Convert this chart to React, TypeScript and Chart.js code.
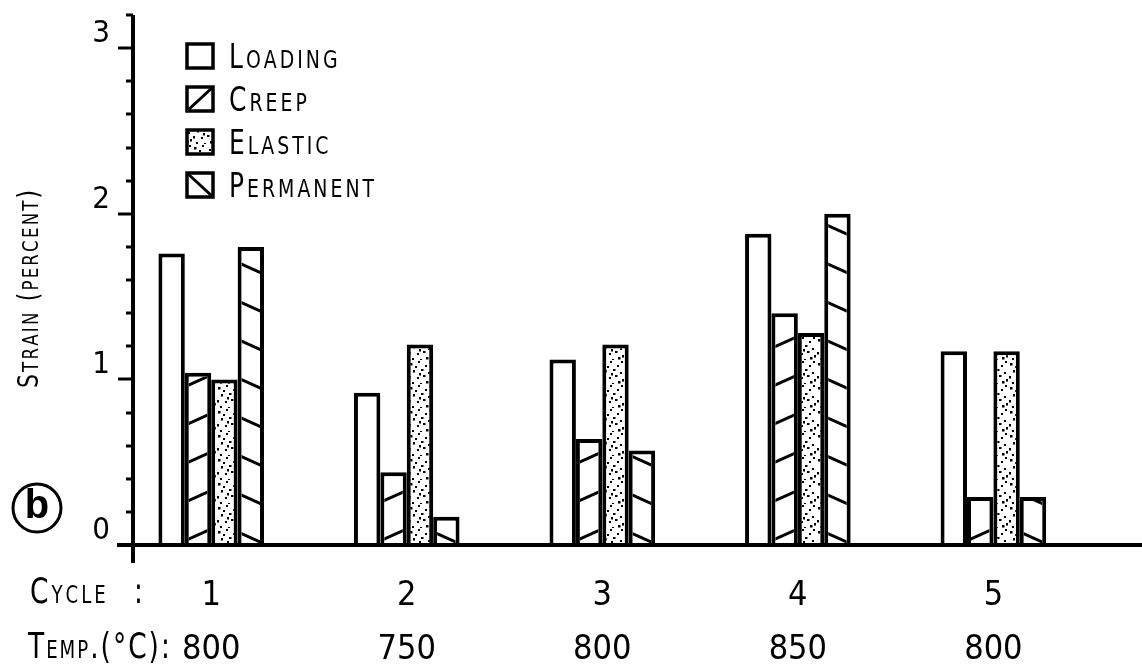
import React, { useEffect, useRef } from 'react';
import { Chart, registerables } from 'chart.js';

Chart.register(...registerables);

// Strain components per loading cycle (percent)
const cycles = [1, 2, 3, 4, 5];
const temperatures = ['800', '750', '800', '850', '800'];
const loading = [1.76, 0.92, 1.12, 1.88, 1.17];
const creep = [1.04, 0.44, 0.64, 1.4, 0.29];
const elastic = [1.0, 1.21, 1.21, 1.28, 1.17];
const permanent = [1.8, 0.17, 0.57, 2.0, 0.29];
const seriesNames = ['Loading', 'Creep', 'Elastic', 'Permanent'];
const seriesFills = ['plain', 'rising', 'dots', 'falling'];

const FONT = "'Liberation Sans Narrow', 'DejaVu Sans Condensed', 'Arial Narrow', sans-serif";
const INK = '#000';
const SQUEEZE = 0.84;

// fixed dot layout for the stippled tile
const DOTS: [number, number][] = [
  [2, 3], [10, 1], [17, 5], [5, 10], [13, 9], [20, 12], [1, 16], [9, 17],
  [15, 15], [22, 19], [4, 22], [12, 23], [18, 21], [7, 6], [21, 1], [11, 13],
];

function makeStipple(ctx: CanvasRenderingContext2D) {
  const c = document.createElement('canvas');
  c.width = 24;
  c.height = 24;
  const g = c.getContext('2d')!;
  g.fillStyle = '#fff';
  g.fillRect(0, 0, 24, 24);
  g.fillStyle = INK;
  DOTS.forEach(([x, y], i) => g.fillRect(x, y, i % 4 === 0 ? 2.5 : 2, i % 3 === 0 ? 2.5 : 2));
  return ctx.createPattern(c, 'repeat')!;
}

// Small-caps lettering: capitals large, lowercase drawn as smaller capitals,
// squeezed horizontally to a narrow lettering style
function drawCaps(ctx: CanvasRenderingContext2D, text: string, x: number, y: number,
  big: number, small: number, spacing: number) {
  ctx.save();
  ctx.translate(x, y);
  ctx.scale(SQUEEZE, 1);
  ctx.textAlign = 'left';
  ctx.textBaseline = 'alphabetic';
  ctx.fillStyle = INK;
  let cx = 0;
  for (const ch of text) {
    const lower = ch >= 'a' && ch <= 'z';
    const c = lower ? ch.toUpperCase() : ch;
    ctx.font = `${lower ? small : big}px ${FONT}`;
    ctx.fillText(c, cx, 0);
    cx += ctx.measureText(c).width + spacing / SQUEEZE;
  }
  ctx.restore();
  return x + cx * SQUEEZE;
}

function hatch(ctx: CanvasRenderingContext2D, left: number, top: number, right: number, bottom: number,
  kind: string, spacing: number, slope: number, phase: number) {
  if (bottom - top <= 0 || right - left <= 0) return;
  ctx.save();
  ctx.beginPath();
  ctx.rect(left, top, right - left, bottom - top);
  ctx.clip();
  ctx.strokeStyle = INK;
  ctx.lineWidth = 3;
  ctx.beginPath();
  const w = right - left;
  for (let k = 0; ; k++) {
    const low = bottom - phase - k * spacing;
    if (low < top) break;
    if (kind === 'rising') {
      ctx.moveTo(left - 2, low + 2 * slope);
      ctx.lineTo(right + 2, low - slope * (w + 2));
    } else {
      ctx.moveTo(right + 2, low + 2 * slope);
      ctx.lineTo(left - 2, low - slope * (w + 2));
    }
  }
  ctx.stroke();
  ctx.restore();
}

const decorPlugin = {
  id: 'decor',
  afterDatasetsDraw(chart: any) {
    const ctx: CanvasRenderingContext2D = chart.ctx;
    const area = chart.chartArea;
    const yScale = chart.scales.y;

    // hatching inside the outlined bars
    chart.data.datasets.forEach((ds: any, di: number) => {
      const kind = seriesFills[di];
      if (kind !== 'rising' && kind !== 'falling') return;
      const bw = ds.borderWidth as number;
      chart.getDatasetMeta(di).data.forEach((el: any) => {
        const p = el.getProps(['x', 'y', 'base', 'width'], true);
        const l = p.x - p.width / 2 + bw;
        const r = p.x + p.width / 2 - bw;
        hatch(ctx, l, p.y + bw, r, p.base, kind, 38.5, 0.45, kind === 'rising' ? 6 : 3);
      });
    });

    ctx.save();
    ctx.strokeStyle = INK;
    ctx.lineCap = 'butt';

    // axis lines
    ctx.lineWidth = 4;
    ctx.beginPath();
    ctx.moveTo(area.left, area.top);
    ctx.lineTo(area.left, area.bottom + 18);
    ctx.moveTo(area.left - 16, area.bottom);
    ctx.lineTo(chart.width, area.bottom);
    ctx.stroke();

    // y tick marks: long at whole percents, short between
    ctx.lineWidth = 3;
    ctx.beginPath();
    yScale.ticks.forEach((t: any) => {
      const py = Math.round(yScale.getPixelForValue(t.value));
      const major = Math.abs(t.value - Math.round(t.value)) < 1e-6;
      ctx.moveTo(area.left - (major ? 15 : 7), py);
      ctx.lineTo(area.left, py);
    });
    ctx.stroke();
    ctx.restore();
  },
  afterDraw(chart: any) {
    const ctx: CanvasRenderingContext2D = chart.ctx;
    const stipple = chart.options.plugins.decor.stipple;
    ctx.save();

    // legend
    chart.data.datasets.forEach((ds: any, i: number) => {
      const base = 68 + 43 * i;
      const bx = 187, by = base - 24, bw = 26, bh = 24;
      ctx.fillStyle = seriesFills[i] === 'dots' ? stipple : '#fff';
      ctx.fillRect(bx, by, bw, bh);
      ctx.strokeStyle = INK;
      ctx.lineWidth = 3.5;
      ctx.strokeRect(bx, by, bw, bh);
      ctx.lineWidth = 3;
      ctx.beginPath();
      if (seriesFills[i] === 'rising') {
        ctx.moveTo(bx, by + bh);
        ctx.lineTo(bx + bw, by);
      } else if (seriesFills[i] === 'falling') {
        ctx.moveTo(bx, by);
        ctx.lineTo(bx + bw, by + bh);
      }
      ctx.stroke();
      drawCaps(ctx, ds.label, 229, base, 33, 25, 3);
    });

    // y-axis title, reading upward
    ctx.save();
    ctx.translate(38, 388);
    ctx.rotate(-Math.PI / 2);
    drawCaps(ctx, 'Strain (percent)', 0, 0, 29, 22, 2.2);
    ctx.restore();

    // panel marker
    ctx.beginPath();
    ctx.arc(37, 508, 24, 0, Math.PI * 2);
    ctx.lineWidth = 3;
    ctx.strokeStyle = INK;
    ctx.stroke();
    ctx.font = `bold 40px 'Liberation Sans', 'DejaVu Sans', sans-serif`;
    ctx.textAlign = 'center';
    ctx.textBaseline = 'middle';
    ctx.fillStyle = INK;
    ctx.fillText('b', 37, 507);

    // row captions for the category labels
    drawCaps(ctx, 'Cycle', 30, 603, 35, 24, 3);
    drawCaps(ctx, ':', 134, 603, 35, 24, 0);
    drawCaps(ctx, 'Temp.(°C):', 28, 658, 35, 24, 2);
    ctx.restore();
  },
};

export default function App() {
  const ref = useRef<HTMLCanvasElement>(null);

  useEffect(() => {
    const canvas = ref.current!;
    const ctx = canvas.getContext('2d')!;
    const stipple = makeStipple(ctx);
    const series = [loading, creep, elastic, permanent];

    const chart = new Chart(canvas, {
      type: 'bar',
      data: {
        datasets: series.map((vals, i) => ({
          label: seriesNames[i],
          data: cycles.map((c, j) => ({ x: c, y: vals[j] })),
          backgroundColor: seriesFills[i] === 'dots' ? stipple : '#fff',
          borderColor: INK,
          borderWidth: 4,
          borderSkipped: 'bottom',
          categoryPercentage: 0.54,
          barPercentage: 1.0,
        })),
      },
      options: {
        animation: false,
        responsive: false,
        devicePixelRatio: 1,
        layout: { padding: { top: 15, left: 0, right: 0, bottom: 0 } },
        plugins: {
          legend: { display: false },
          tooltip: { enabled: false },
          decor: { stipple },
        } as any,
        scales: {
          x: {
            type: 'linear',
            min: 0.6,
            max: 5.76,
            offset: false,
            grid: { display: false },
            border: { display: false },
            afterBuildTicks: (s: any) => {
              s.ticks = cycles.map((v) => ({ value: v }));
            },
            afterFit: (s: any) => {
              s.height = 120;
              s.paddingLeft = 0;
              s.paddingRight = 0;
            },
            ticks: {
              color: INK,
              font: { family: FONT, size: 34, lineHeight: 1.6 },
              padding: 16,
              maxRotation: 0,
              autoSkip: false,
              callback: (v: any) => {
                const i = cycles.indexOf(Number(v));
                return i < 0 ? '' : [String(cycles[i]), temperatures[i]];
              },
            },
          },
          y: {
            min: 0,
            max: 3.2,
            grid: { display: false },
            border: { display: false },
            afterFit: (s: any) => {
              s.width = 133;
              s.paddingTop = 0;
              s.paddingBottom = 0;
            },
            ticks: {
              stepSize: 0.2,
              color: INK,
              font: { family: FONT, size: 31 },
              padding: 15,
              labelOffset: -14,
              autoSkip: false,
              callback: (v: any) => {
                const n = Number(v);
                return Math.abs(n - Math.round(n)) < 1e-6 ? String(Math.round(n)) : '';
              },
            },
          },
        },
      } as any,
      plugins: [decorPlugin],
    });

    return () => chart.destroy();
  }, []);

  return (
    <div style={{ position: 'absolute', left: 0, top: 0, width: 1142, height: 665, background: '#fff' }}>
      <canvas ref={ref} width={1142} height={665} style={{ display: 'block' }} />
    </div>
  );
}
